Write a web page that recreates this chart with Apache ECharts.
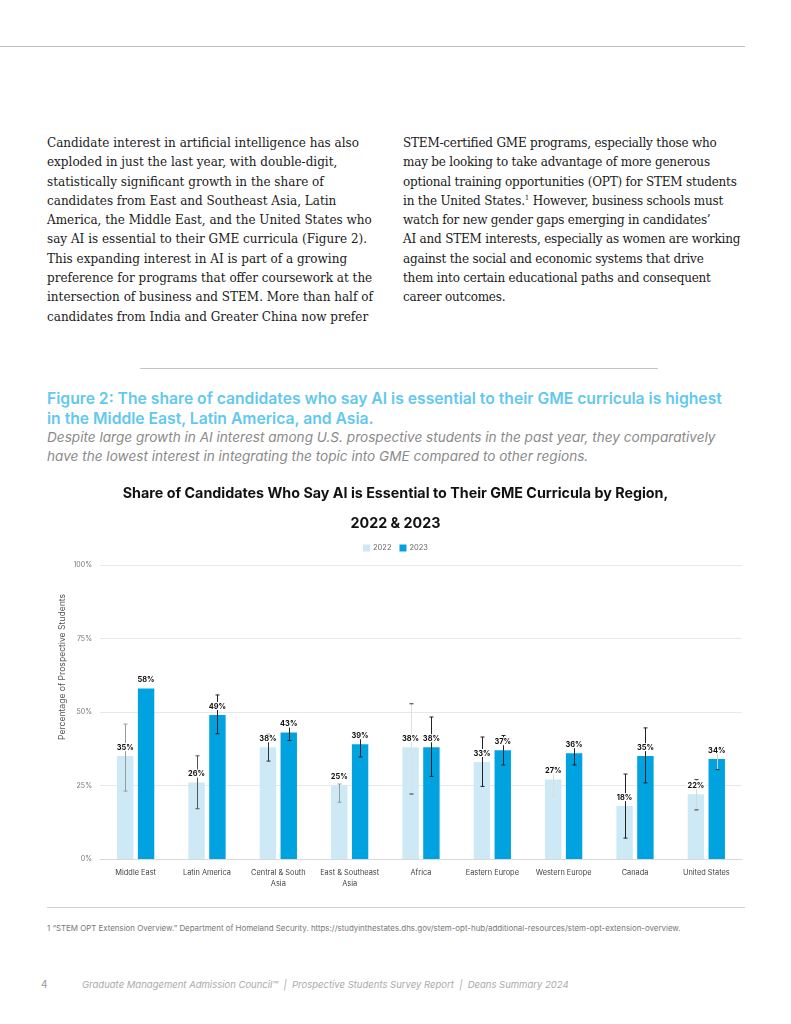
<!DOCTYPE html>
<html>
<head>
<meta charset="utf-8">
<script src="https://cdn.jsdelivr.net/npm/echarts@6/dist/echarts.min.js"></script>
<style>
  html, body { margin:0; padding:0; background:#fff; }
  body { width:791px; height:1024px; position:relative; overflow:hidden; }
  .abs { position:absolute; white-space:nowrap; }
  .body { font-family:"DejaVu Serif", serif; font-size:12px; line-height:19.3px; color:#1a1a1a; }
  .ftitle { font-family:Inter, sans-serif; font-weight:600; font-size:15.7px; line-height:20px; color:#62c8ef; }
  .fsub { font-family:Inter, sans-serif; font-style:italic; font-size:13.6px; line-height:19px; color:#8a8a8a; }
  .rule { position:absolute; height:1px; }
  #chart { position:absolute; left:0; top:470px; width:791px; height:430px; }
</style>
</head>
<body>
<div class="rule" style="left:0;top:46px;width:745px;background:#b8c2be;"></div>

<div class="abs body" style="left:47px;top:134px;">Candidate interest in artificial intelligence has also<br>exploded in just the last year, with double-digit,<br>statistically significant growth in the share of<br>candidates from East and Southeast Asia, Latin<br>America, the Middle East, and the United States who<br>say AI is essential to their GME curricula (Figure 2).<br>This expanding interest in AI is part of a growing<br>preference for programs that offer coursework at the<br>intersection of business and STEM. More than half of<br>candidates from India and Greater China now prefer</div>

<div class="abs body" style="left:403px;top:134px;letter-spacing:-0.2px;">STEM-certified GME programs, especially those who<br>may be looking to take advantage of more generous<br>optional training opportunities (OPT) for STEM students<br>in the United States.<sup style="font-size:7px;line-height:0">1</sup> However, business schools must<br>watch for new gender gaps emerging in candidates’<br>AI and STEM interests, especially as women are working<br>against the social and economic systems that drive<br>them into certain educational paths and consequent<br>career outcomes.</div>

<div class="rule" style="left:140px;top:368px;width:518px;background:#c4c4c4;"></div>

<div class="abs ftitle" style="left:47px;top:389px;">Figure 2: The share of candidates who say AI is essential to their GME curricula is highest<br>in the Middle East, Latin America, and Asia.</div>
<div class="abs fsub" style="left:47px;top:428px;">Despite large growth in AI interest among U.S. prospective students in the past year, they comparatively<br>have the lowest interest in integrating the topic into GME compared to other regions.</div>

<div id="chart"></div>

<div class="rule" style="left:47px;top:907px;width:698px;background:#d0d0d0;"></div>
<div class="abs" style="left:47px;top:923px;font-family:Inter,sans-serif;font-size:7.9px;color:#777;">1 “STEM OPT Extension Overview.” Department of Homeland Security. https://studyinthestates.dhs.gov/stem-opt-hub/additional-resources/stem-opt-extension-overview.</div>
<div class="abs" style="left:41px;top:978px;font-family:Inter,sans-serif;font-size:10px;color:#999;">4</div>
<div class="abs" style="left:82px;top:979px;font-family:Inter,sans-serif;font-style:italic;font-size:9.5px;color:#aaa;">Graduate Management Admission Council™ &nbsp;|&nbsp; Prospective Students Survey Report &nbsp;|&nbsp; Deans Summary 2024</div>

<script>
// ---- data ----
const categories = ['Middle East', 'Latin America', 'Central & South\nAsia', 'East & Southeast\nAsia', 'Africa', 'Eastern Europe', 'Western Europe', 'Canada', 'United States'];
const seriesNames = ['2022', '2023'];
const values2022 = [35, 26, 38, 25, 38, 33, 27, 18, 22];
const values2023 = [58, 49, 43, 39, 38, 37, 36, 35, 34];
const errLow2022  = [23.1, 17.1, 33.3, 19.3, 22.1, 24.7, 21.4, 7.1, 16.7];
const errHigh2022 = [45.9, 35.1, 42.4, 25.5, 52.8, 41.5, 31.5, 28.9, 27.0];
const errLow2023  = [null, 42.6, 40.3, 34.7, 28.1, 32.0, 32.0, 25.9, 30.4];
const errHigh2023 = [null, 55.8, 46.3, 42.5, 48.3, 42.0, 38.9, 44.6, 37.2];
const yTicks = [0, 25, 50, 75, 100];

// ---- styles ----
const colors = ['#cde9f5', '#00a3e0'];
const errColors2022 = ['#9a9a9a', '#555', '#333', '#999', '#e0e0e0', '#222', '#dcdcdc', '#222', '#d8d8d8'];
const errColors2023 = ['#ddd', '#222', '#222', '#222', '#222', '#222', '#222', '#222', '#cfcfcf'];
const capColors2022 = ['#9a9a9a', '#555', '#333', '#999', '#333', '#222', '#dcdcdc', '#222', '#333'];
const capColors2023 = ['#ddd', '#222', '#222', '#222', '#222', '#222', '#222', '#222', '#333'];
const BAR_W = 0.23, BAR_GAP = 0.27;
const chartFont = 'Inter, sans-serif';

function barCenter(api, idx, s) {
  const band = api.size([1, 0])[0];
  const w = band * BAR_W, g = w * BAR_GAP;
  const c = api.coord([idx, 0])[0];
  return { x: c + (s === 0 ? -1 : 1) * (w + g) / 2, w: w };
}

const errData = [];
categories.forEach((c, i) => {
  if (errLow2022[i] != null) errData.push([i, 0, errLow2022[i], errHigh2022[i]]);
  if (errLow2023[i] != null) errData.push([i, 1, errLow2023[i], errHigh2023[i]]);
});
const labelData = [];
categories.forEach((c, i) => {
  labelData.push([i, 0, values2022[i]]);
  labelData.push([i, 1, values2023[i]]);
});

const chart = echarts.init(document.getElementById('chart'), null, { renderer: 'canvas' });
chart.setOption({
  animation: false,
  title: {
    text: 'Share of Candidates Who Say AI is Essential to Their GME Curricula by Region,\n2022 & 2023',
    left: 'center', top: 4,
    textStyle: { fontFamily: chartFont, fontWeight: 'bold', fontSize: 14.3, color: '#111', lineHeight: 30 }
  },
  legend: {
    data: seriesNames, top: 69, left: 'center',
    itemWidth: 7, itemHeight: 7, itemGap: 8, icon: 'rect',
    textStyle: { fontFamily: chartFont, fontSize: 7.5, color: '#666', padding: [0, 0, 0, -2] }
  },
  grid: { left: 100, right: 49, top: 95, bottom: 41, containLabel: false },
  xAxis: {
    type: 'category', data: categories,
    axisLine: { lineStyle: { color: '#d9d9d9' } },
    axisTick: { show: false },
    axisLabel: { fontFamily: chartFont, fontSize: 7.4, color: '#444', lineHeight: 11, margin: 8, interval: 0 }
  },
  yAxis: {
    type: 'value', min: 0, max: 100, interval: 25,
    axisLabel: { formatter: v => yTicks.includes(v) ? v + '%' : '', fontFamily: chartFont, fontSize: 7, color: '#777', margin: 8 },
    splitLine: { lineStyle: { color: '#e8e8e8' } },
    axisLine: { show: false }, axisTick: { show: false }
  },
  graphic: [{
    type: 'text', x: 62, y: 197, rotation: Math.PI / 2,
    style: { text: 'Percentage of Prospective Students', fill: '#555', font: '8.6px ' + chartFont, align: 'center', verticalAlign: 'middle' }
  }],
  series: [
    { name: '2022', type: 'bar', data: values2022, barWidth: (BAR_W * 100) + '%', barGap: (BAR_GAP * 100) + '%', itemStyle: { color: colors[0] }, z: 2 },
    { name: '2023', type: 'bar', data: values2023, barWidth: (BAR_W * 100) + '%', barGap: (BAR_GAP * 100) + '%', itemStyle: { color: colors[1] }, z: 2 },
    {
      type: 'custom', z: 3, data: errData, silent: true,
      renderItem: function (params, api) {
        const idx = api.value(0), s = api.value(1);
        const b = barCenter(api, idx, s);
        const y1 = api.coord([idx, api.value(2)])[1];
        const y2 = api.coord([idx, api.value(3)])[1];
        const lc = (s === 0 ? errColors2022 : errColors2023)[idx];
        const cc = (s === 0 ? capColors2022 : capColors2023)[idx];
        const x = Math.round(b.x) + 0.5;
        return { type: 'group', children: [
          { type: 'line', shape: { x1: x, y1: y1, x2: x, y2: y2 }, style: { stroke: lc, lineWidth: 1 } },
          { type: 'line', shape: { x1: x - 2, y1: y1, x2: x + 2, y2: y1 }, style: { stroke: cc, lineWidth: 1 } },
          { type: 'line', shape: { x1: x - 2, y1: y2, x2: x + 2, y2: y2 }, style: { stroke: cc, lineWidth: 1 } }
        ]};
      }
    },
    {
      type: 'custom', z: 4, data: labelData, silent: true,
      renderItem: function (params, api) {
        const idx = api.value(0), s = api.value(1);
        const b = barCenter(api, idx, s);
        const y = api.coord([idx, api.value(2)])[1];
        return { type: 'text', x: b.x, y: y - 5,
          style: { text: api.value(2) + '%', fill: '#111', font: 'bold 7.4px ' + chartFont, align: 'center', verticalAlign: 'bottom', backgroundColor: '#fff', padding: [1, 1, 0, 1] } };
      }
    }
  ]
});
</script>
</body>
</html>
